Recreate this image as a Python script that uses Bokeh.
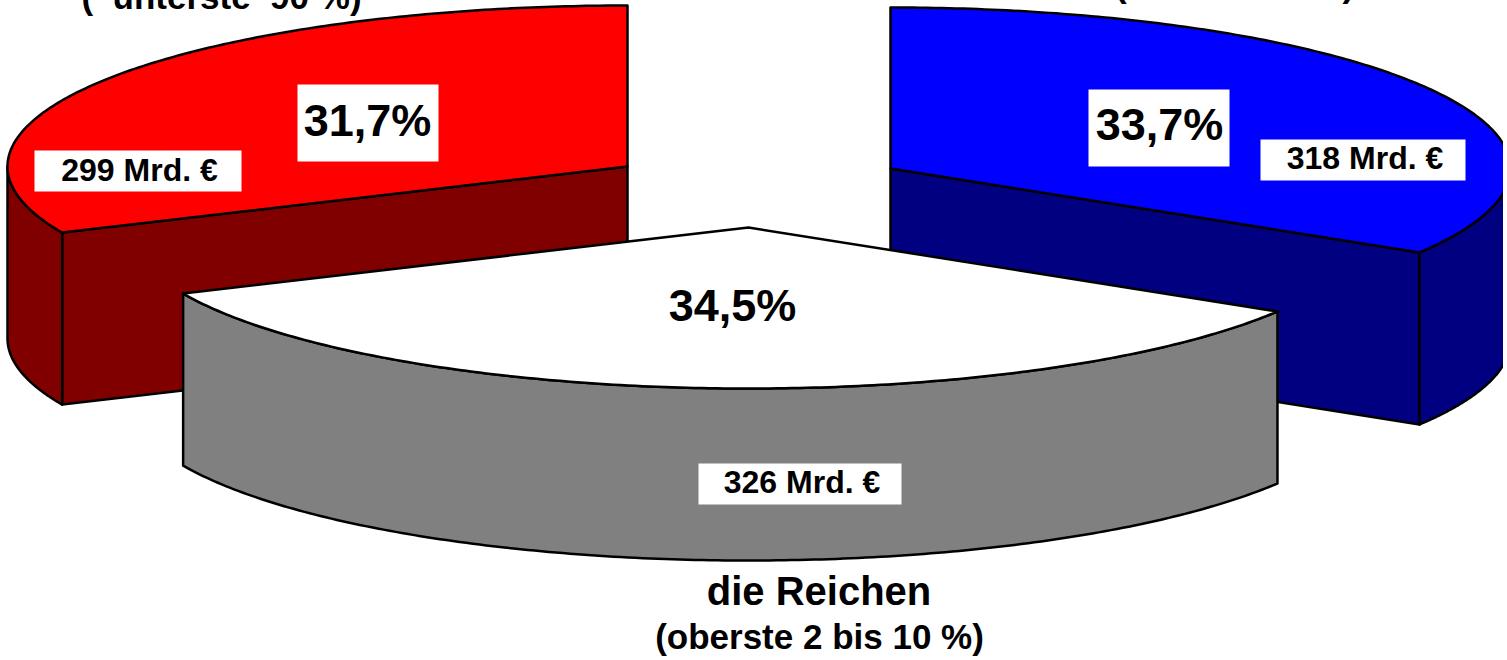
import numpy as np
from bokeh.plotting import figure
from bokeh.models import Range1d
from bokeh.core.properties import value
from bokeh.embed import file_html
from bokeh.resources import INLINE

# data
names = ["oberstes 1 %", "oberste 2 bis 10 %", "unterste 90 %"]
shares = [33.7, 34.5, 31.7]
share_labels = ["33,7%", "34,5%", "31,7%"]
amount_labels = ["318 Mrd. €", "326 Mrd. €", "299 Mrd. €"]
top_colors = ["#0000FF", "#FFFFFF", "#FF0000"]
side_colors = ["#000080", "#808080", "#800000"]

# layout of the exploded pie, in pixels of the page
apex = [(894, 172), (752, 231), (631, 170)]
RX, RY, DEPTH = 620, 161, 172
share_xy = [(1163, 146), (736, 327), (371, 142)]
share_box = [(1092, 1233, 93, 170), None, (301, 442, 88, 165)]
amount_xy = [(1368.5, 174), (805.5, 498), (143, 186)]
amount_box = [(1264, 1469, 143, 184), (702, 905, 467, 508), (38, 245, 154, 195)]

p = figure(width=1507, height=660, x_range=Range1d(0, 1507), y_range=Range1d(660, 0),
           output_backend="svg", toolbar_location=None, min_border=0,
           outline_line_color=None, background_fill_color="white", margin=(-4, 0, 0, -4))
p.axis.visible = False
p.grid.visible = False

STYLE = dict(line_color="black", line_width=2.5, line_join="round")


def arc(cx, cy, a0, a1, dy=0):
    t = np.radians(np.linspace(a0, a1, 181))
    return cx + RX * np.cos(t), cy - RY * np.sin(t) + dy


total = sum(shares)
start = [90 - 360 * sum(shares[:i]) / total for i in range(3)]
spans = [360 * s / total for s in shares]

# back to front: red, blue, then the white/grey slice
for i in (2, 0, 1):
    cx, cy = apex[i]
    a0, a1 = start[i], start[i] - spans[i]
    # cut faces
    for ang in (a0, a1):
        ex, ey = arc(cx, cy, ang, ang)
        ex, ey = ex[0], ey[0]
        if (i == 0 and ang == a1) or (i == 2 and ang == a0):
            p.patch([cx, ex, ex, cx], [cy, ey, ey + DEPTH, cy + DEPTH],
                    fill_color=side_colors[i], **STYLE)
    # outer wall: only the part on the front half of the ellipse
    w0, w1 = min(a0, 0), max(a1, -180)
    if w0 > w1:
        xt, yt = arc(cx, cy, w0, w1)
        xb, yb = arc(cx, cy, w1, w0, DEPTH)
        p.patch(np.r_[xt, xb], np.r_[yt, yb], fill_color=side_colors[i], **STYLE)
    # top
    xt, yt = arc(cx, cy, a0, a1)
    p.patch(np.r_[cx, xt], np.r_[cy, yt], fill_color=top_colors[i], **STYLE)

font = value("Liberation Sans")


def label(x, y, txt, size):
    p.text([x], [y - 0.4 * size], text=[txt], text_font=font, text_font_size=f"{size}px",
           text_font_style="bold", text_align="center", text_baseline="alphabetic",
           text_color="black")


for i in range(3):
    if share_box[i]:
        l, r, t, b = share_box[i]
        p.quad(left=[l], right=[r], top=[t], bottom=[b], fill_color="white", line_color=None)
    l, r, t, b = amount_box[i]
    p.quad(left=[l], right=[r], top=[t], bottom=[b], fill_color="white", line_color=None)
    label(*share_xy[i], share_labels[i], 45)
    label(*amount_xy[i], amount_labels[i], 32)

label(225, 14, "(\u00a0 unterste\u00a0 90 %)", 35)
label(1238, 2, "(oberstes 1 %)", 35)
label(822.5, 610, "die Reichen", 40)
label(823, 654, "(oberste 2 bis 10 %)", 35)

open("out.html", "w").write(file_html(p, INLINE))
